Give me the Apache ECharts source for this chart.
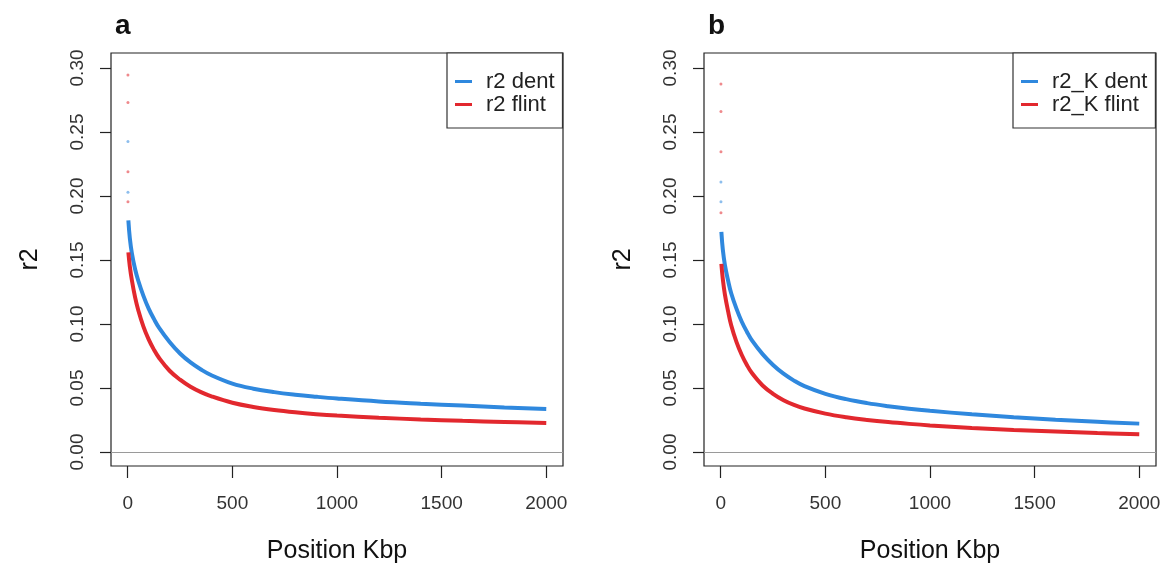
<!DOCTYPE html>
<html>
<head>
<meta charset="utf-8">
<script src="https://cdn.jsdelivr.net/npm/echarts@6/dist/echarts.min.js"></script>
<style>
html,body{margin:0;padding:0;background:#fff;}
#chart{width:1171px;height:574px;}
</style>
</head>
<body>
<div id="chart"></div>
<script>
// ---- data ----
const positions = [3, 10, 20, 35, 50, 75, 100, 125, 150, 200, 250, 300, 350, 400, 500, 600, 700, 800, 900, 1000, 1200, 1400, 1600, 1800, 2000];
const r2Dent   = [0.181, 0.167, 0.155, 0.143, 0.134, 0.122, 0.112, 0.104, 0.097, 0.086, 0.077, 0.070, 0.0645, 0.060, 0.0535, 0.0495, 0.0468, 0.0448, 0.0432, 0.0418, 0.0395, 0.0378, 0.0363, 0.0348, 0.0336];
const r2Flint  = [0.156, 0.145, 0.134, 0.121, 0.111, 0.098, 0.088, 0.080, 0.0735, 0.0635, 0.0565, 0.0510, 0.0468, 0.0435, 0.0385, 0.0352, 0.0328, 0.0310, 0.0296, 0.0285, 0.0268, 0.0255, 0.0244, 0.0235, 0.0227];
const r2KDent  = [0.172, 0.158, 0.146, 0.134, 0.124, 0.112, 0.102, 0.094, 0.087, 0.0765, 0.068, 0.0612, 0.0558, 0.0515, 0.0455, 0.0413, 0.0382, 0.0358, 0.0338, 0.0322, 0.0295, 0.0272, 0.0252, 0.0236, 0.0222];
const r2KFlint = [0.147, 0.135, 0.123, 0.110, 0.099, 0.086, 0.076, 0.068, 0.0615, 0.0520, 0.0455, 0.0405, 0.0368, 0.0340, 0.0300, 0.0272, 0.0251, 0.0234, 0.0220, 0.0208, 0.0188, 0.0172, 0.0160, 0.0149, 0.0139];
// isolated first-position points near x = 0
const firstPos = 1;
const r2DentFirst   = [0.2425, 0.203];
const r2FlintFirst  = [0.2945, 0.273, 0.219, 0.1955];
const r2KDentFirst  = [0.211, 0.1955];
const r2KFlintFirst = [0.2875, 0.266, 0.2345, 0.187];
const xTicks = [0, 500, 1000, 1500, 2000];
const yTicks = [0, 0.05, 0.10, 0.15, 0.20, 0.25, 0.30];
const panelTitles = ['a', 'b'];
const legendNames = [['r2 dent', 'r2 flint'], ['r2_K dent', 'r2_K flint']];

// ---- styles ----
const BLUE = '#2f88de';
const RED = '#e2282e';
const FONT = '"Liberation Sans", Arial, Helvetica, sans-serif';
const gridLefts = [111, 704];
const GW = 452, GTOP = 53, GH = 413;

const pair = (xs, ys) => ys.map((v, i) => [xs[i], v]);

const grids = gridLefts.map(l => ({
  left: l, top: GTOP, width: GW, height: GH, show: true,
  borderColor: '#222', borderWidth: 1.2, backgroundColor: 'transparent'
}));

const xAxes = gridLefts.map((l, i) => ({
  type: 'value', gridIndex: i, min: -80, max: 2080,
  name: 'Position Kbp', nameLocation: 'middle', nameGap: 73,
  nameTextStyle: { fontFamily: FONT, fontSize: 25, color: '#111' },
  axisLine: { show: false, onZero: false },
  axisTick: { show: true, inside: false, length: 12, customValues: xTicks, lineStyle: { color: '#222', width: 1.2 } },
  axisLabel: { customValues: xTicks, margin: 28, fontFamily: FONT, fontSize: 19, color: '#333',
    formatter: v => String(v) },
  splitLine: { show: false }
}));

const yAxes = gridLefts.map((l, i) => ({
  type: 'value', gridIndex: i, min: -0.0109, max: 0.3117,
  name: 'r2', nameLocation: 'middle', nameGap: 68, nameRotate: 90,
  nameTextStyle: { fontFamily: FONT, fontSize: 25, color: '#111' },
  axisLine: { show: false, onZero: false },
  axisTick: { show: true, inside: false, length: 11, customValues: yTicks, lineStyle: { color: '#222', width: 1.2 } },
  axisLabel: { customValues: yTicks, rotate: 90, margin: 24, fontFamily: FONT, fontSize: 19, color: '#333',
    formatter: v => v.toFixed(2) },
  splitLine: { show: false }
}));

function lineSeries(name, ys, color, idx, withZero) {
  const s = {
    name, type: 'line', xAxisIndex: idx, yAxisIndex: idx,
    data: pair(positions, ys), showSymbol: false, symbol: 'none',
    smooth: 0.4,
    lineStyle: { color, width: 4 }, itemStyle: { color },
    emphasis: { disabled: true }, animation: false, z: 3
  };
  if (withZero) {
    s.markLine = {
      silent: true, symbol: ['none', 'none'], label: { show: false },
      lineStyle: { color: '#9a9a9a', width: 1.2, type: 'solid' },
      data: [{ yAxis: 0 }], animation: false
    };
  }
  return s;
}
function pointSeries(name, ys, color, idx) {
  return {
    name, type: 'scatter', xAxisIndex: idx, yAxisIndex: idx,
    data: ys.map(v => [firstPos, v]), symbolSize: 3,
    itemStyle: { color, opacity: 0.55 }, emphasis: { disabled: true },
    animation: false, z: 2
  };
}

const series = [
  lineSeries(legendNames[0][0], r2Dent, BLUE, 0, true),
  lineSeries(legendNames[0][1], r2Flint, RED, 0, false),
  pointSeries('r2 dent pts', r2DentFirst, BLUE, 0),
  pointSeries('r2 flint pts', r2FlintFirst, RED, 0),
  lineSeries(legendNames[1][0], r2KDent, BLUE, 1, true),
  lineSeries(legendNames[1][1], r2KFlint, RED, 1, false),
  pointSeries('r2_K dent pts', r2KDentFirst, BLUE, 1),
  pointSeries('r2_K flint pts', r2KFlintFirst, RED, 1)
];

const legends = [
  { left: 447, top: 53 },
  { left: 1013, top: 53 }
].map((p, i) => ({
  left: p.left, top: p.top, orient: 'vertical',
  data: legendNames[i], selectedMode: false,
  backgroundColor: '#fff', borderColor: '#333', borderWidth: 1.2, borderRadius: 0,
  padding: [17, 8, 12, 8], itemGap: 0,
  icon: 'rect', itemWidth: 17, itemHeight: 3,
  textStyle: { fontFamily: FONT, fontSize: 22, lineHeight: 23, color: '#222', padding: [0, 0, 0, 9] }
}));

const titles = panelTitles.map((t, i) => ({
  text: t, left: gridLefts[i] - 1, top: 7,
  textStyle: { fontFamily: FONT, fontSize: 28, fontWeight: 'bold', color: '#111' }
}));

const chart = echarts.init(document.getElementById('chart'), null, { renderer: 'canvas' });
chart.setOption({
  backgroundColor: '#fff',
  animation: false,
  title: titles,
  grid: grids,
  xAxis: xAxes,
  yAxis: yAxes,
  legend: legends,
  series
});
</script>
</body>
</html>
